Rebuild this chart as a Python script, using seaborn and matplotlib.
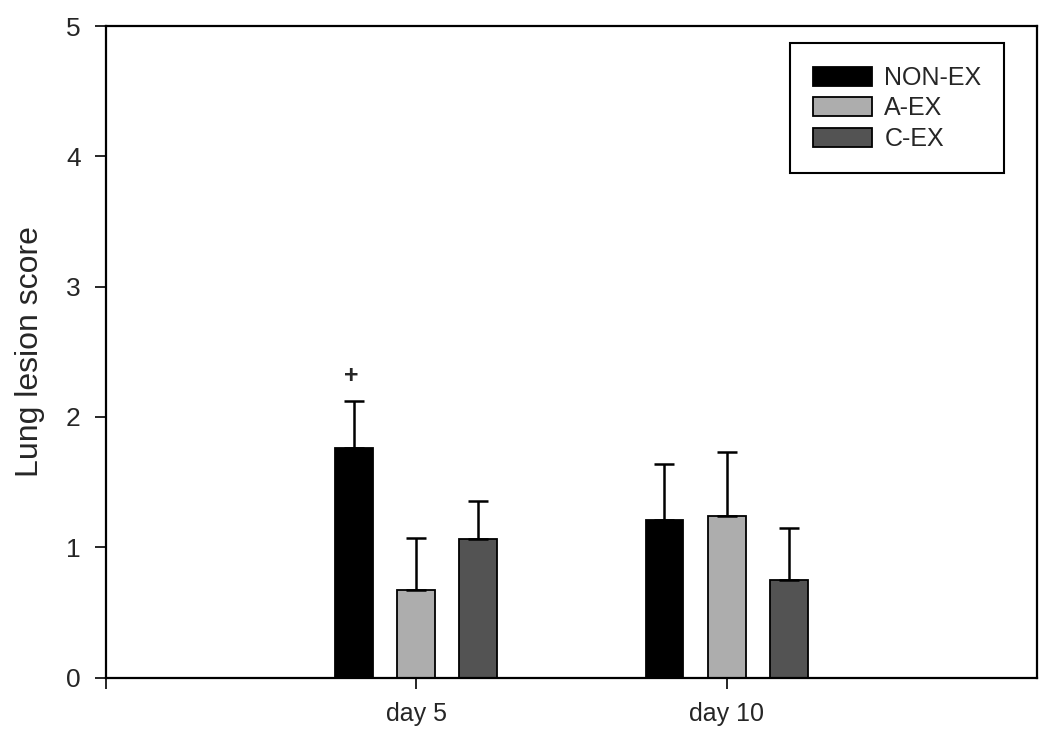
import numpy as np
import pandas as pd
import seaborn as sb
import matplotlib.pyplot as plt

days = ['day 5', 'day 10']
groups = ['NON-EX', 'A-EX', 'C-EX']
means = {
    'NON-EX': [1.76, 1.21],
    'A-EX': [0.675, 1.24],
    'C-EX': [1.06, 0.745],
}
errs = {
    'NON-EX': [0.365, 0.43],
    'A-EX': [0.395, 0.49],
    'C-EX': [0.295, 0.40],
}
yticks = [0, 1, 2, 3, 4, 5]
colors = ['#000000', '#adadad', '#535353']

rows = []
for g in groups:
    for i, d in enumerate(days):
        rows.append({'day': d, 'group': g, 'score': means[g][i], 'err': errs[g][i]})
df = pd.DataFrame(rows)

sb.set_style('ticks')
plt.rcParams['font.family'] = ['Liberation Sans', 'DejaVu Sans']

fig = plt.figure(figsize=(10.5, 7.36), dpi=100)
ax = fig.add_axes([105.7 / 1050, 1 - 677.5 / 736, 931.3 / 1050, 651.5 / 736])

sb.barplot(data=df, x='day', y='score', hue='group', hue_order=groups,
           order=days, palette=colors, width=0.6, gap=0.39,
           edgecolor='black', linewidth=1.3, errorbar=None, ax=ax)

# error bars (upward only) placed on the drawn bars
bars = [p for p in ax.patches if p.get_height() > 0]
for p in bars:
    cx = p.get_x() + p.get_width() / 2
    h = p.get_height()
    e = df.loc[np.isclose(df['score'], h), 'err'].iloc[0]
    ax.errorbar(cx, h, yerr=[[0], [e]], fmt='none', ecolor='black',
                elinewidth=1.8, capsize=7, capthick=1.8, zorder=1)
    if np.isclose(h, means['NON-EX'][0]):
        ax.text(cx - 0.01, h + e + 0.19, '+', ha='center', va='center',
                fontsize=18, fontweight='bold')

ax.set_xlim(-1, 2)
ax.set_ylim(0, 5)
ax.set_yticks(yticks)
ax.set_yticklabels([str(t) for t in yticks], fontsize=19)
ax.set_xticks([-1, 0, 1])
ax.set_xticklabels(['', 'day 5', 'day 10'], fontsize=18)
ax.tick_params(axis='y', length=8, width=1.4, direction='out', pad=10)
ax.tick_params(axis='x', length=8, width=1.4, direction='out', pad=10)
for s in ax.spines.values():
    s.set_visible(True)
    s.set_linewidth(1.6)
    s.set_color('black')

ax.set_xlabel('')
ax.set_ylabel('Lung lesion score', fontsize=23, labelpad=15)

leg = ax.legend(loc='upper right', bbox_to_anchor=(0.9646, 0.9735),
                borderaxespad=0, fontsize=18, frameon=True, fancybox=False,
                handlelength=2.36, handleheight=0.8, labelspacing=0.26,
                borderpad=0.9, handletextpad=0.5)
leg.get_frame().set_edgecolor('black')
leg.get_frame().set_linewidth(1.5)
leg.get_frame().set_alpha(1)

plt.savefig('out.png', dpi=100)
